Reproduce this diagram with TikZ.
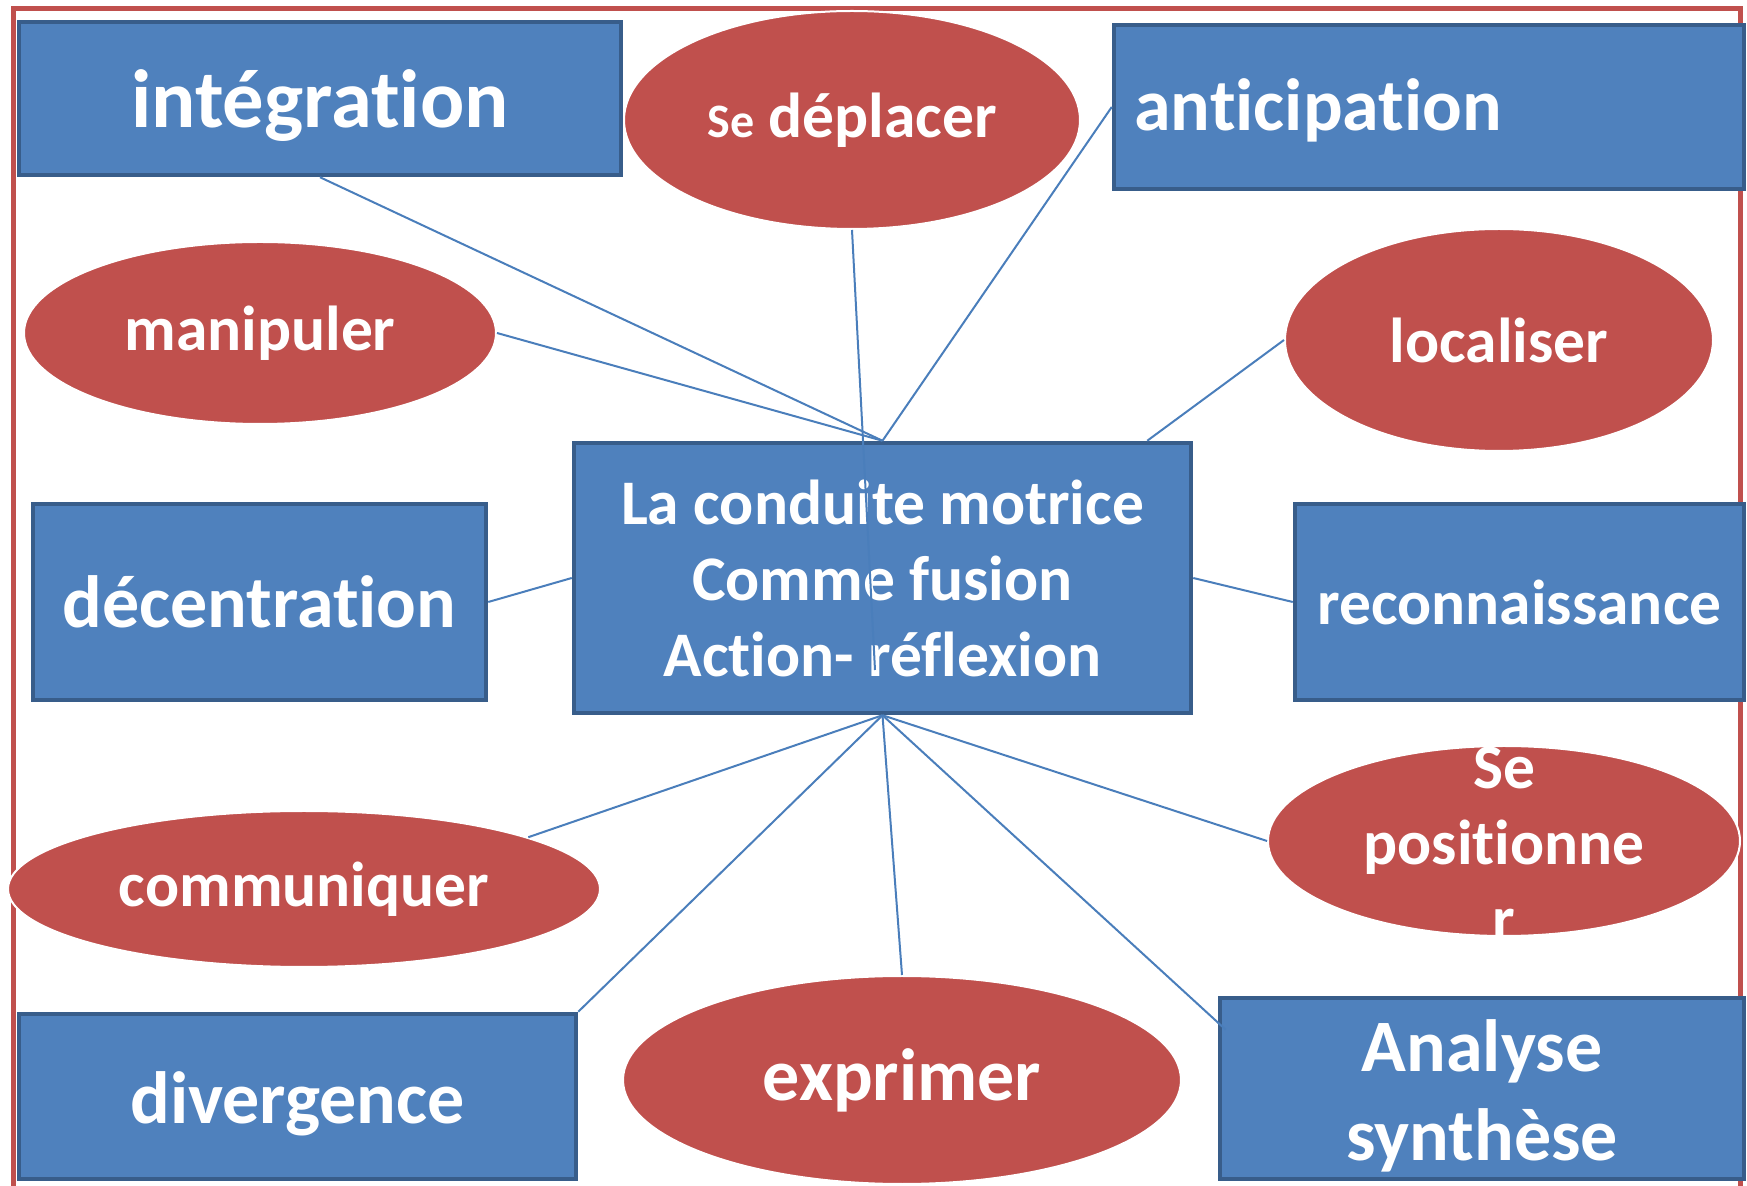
\documentclass[tikz,border=0pt]{standalone}
\usepackage{fontspec}
\setmainfont{Carlito}[Ligatures=NoCommon]
\usetikzlibrary{shapes.geometric,calc}
\definecolor{boxfill}{HTML}{4F81BD}
\definecolor{boxline}{HTML}{385D8A}
\definecolor{ellfill}{HTML}{C0504D}
\definecolor{framec}{HTML}{C0504D}
\definecolor{linkc}{HTML}{4A7EBB}
\begin{document}
\begin{tikzpicture}[x=0.5pt,y=-0.5pt,
  bluebox/.style={rectangle, draw=boxline, fill=boxfill, line width=2.25pt, inner sep=0pt, text=white, font=\bfseries, align=center},
  redell/.style={ellipse, fill=ellfill, draw=white, line width=1pt, inner sep=0pt, text=white, font=\bfseries, align=center},
  lbl/.style={inner sep=0pt, text=white, font=\bfseries, align=center},
  linkline/.style={draw=linkc, line width=1pt},
  fa/.style={font=\bfseries\fontsize{31.75pt}{38pt}\selectfont},
  fb/.style={font=\bfseries\fontsize{37pt}{44.5pt}\selectfont},
  fc/.style={font=\bfseries\fontsize{41.3pt}{49.5pt}\selectfont}]
\useasboundingbox (0,0) rectangle (1747,1186);
% outer frame
\draw[framec, line width=2.5pt] (13,1200) -- (13,9) -- (1740,9) -- (1740,1200);
% boxes
\node[bluebox, minimum width=301pt, minimum height=76.5pt] (integ) at (320,98.5) {};
\node[lbl, fc] (integtxt) at (320,106) {intégration};
\node[bluebox, minimum width=315pt, minimum height=82pt] (antic) at (1429,107) {};
\node[lbl, fb, anchor=west] (antictxt) at (1134,110) {anticipation};
\node[bluebox, fa, minimum width=308.5pt, minimum height=135pt] (center) at (882.5,578) {La conduite motrice\\Comme fusion\\Action- réflexion};
\node[bluebox, fb, minimum width=226.5pt, minimum height=98pt] (decent) at (259.5,602) {décentration};
\node[bluebox, fa, minimum width=224.5pt, minimum height=98pt] (recon) at (1519.5,602) {reconnaissance};
\node[bluebox, minimum width=278.5pt, minimum height=82.5pt] (diverg) at (297.5,1096.5) {};
\node[lbl, fb] (divergtxt) at (297.5,1104) {divergence};
\node[bluebox, minimum width=262pt, minimum height=90.5pt] (analyse) at (1482,1088.5) {};
\node[lbl, fb] (analysetxt) at (1482,1096) {Analyse\\synthèse};
% ellipses
\node[redell, fa, minimum width=228pt, minimum height=109pt] (deplacer) at (852,120) {{\fontsize{24pt}{29pt}\selectfont Se} déplacer};
\node[redell, fa, minimum width=236pt, minimum height=91pt] (manip) at (260,333) {manipuler};
\node[redell, fa, minimum width=214pt, minimum height=111pt] (local) at (1499,340) {localiser};
\node[redell, fa, minimum width=296pt, minimum height=78pt] (commun) at (304,889) {communiquer};
\node[redell, minimum width=236pt, minimum height=95pt] (posit) at (1504,841) {};
\node[lbl, fa] (posittxt) at (1504,844) {Se\\positionne\\r};
\node[redell, fb, minimum width=279pt, minimum height=104pt] (exprim) at (902,1080) {exprimer};
% connectors
\coordinate (dend) at (875,670);
\draw[linkline] (integ.south) -- (center.north);
\draw[linkline] (manip.east) -- (center.north);
\draw[linkline] (antic.west) -- (center.north);
\draw[linkline] (deplacer.south) -- (dend);
\draw[linkline] (local.west) -- ($(center.north east)+(-46,0)$);
\draw[linkline] (decent.east) -- (center.west);
\draw[linkline] (center.east) -- (recon.west);
\draw[linkline] (commun.13) -- (center.south);
\draw[linkline] (diverg.north east) -- (center.south);
\draw[linkline] (exprim.north) -- (center.south);
\draw[linkline] (posit.west) -- (center.south);
\draw[linkline] (center.south) -- ($(analyse.north west)+(8,34)$);
\end{tikzpicture}
\end{document}
